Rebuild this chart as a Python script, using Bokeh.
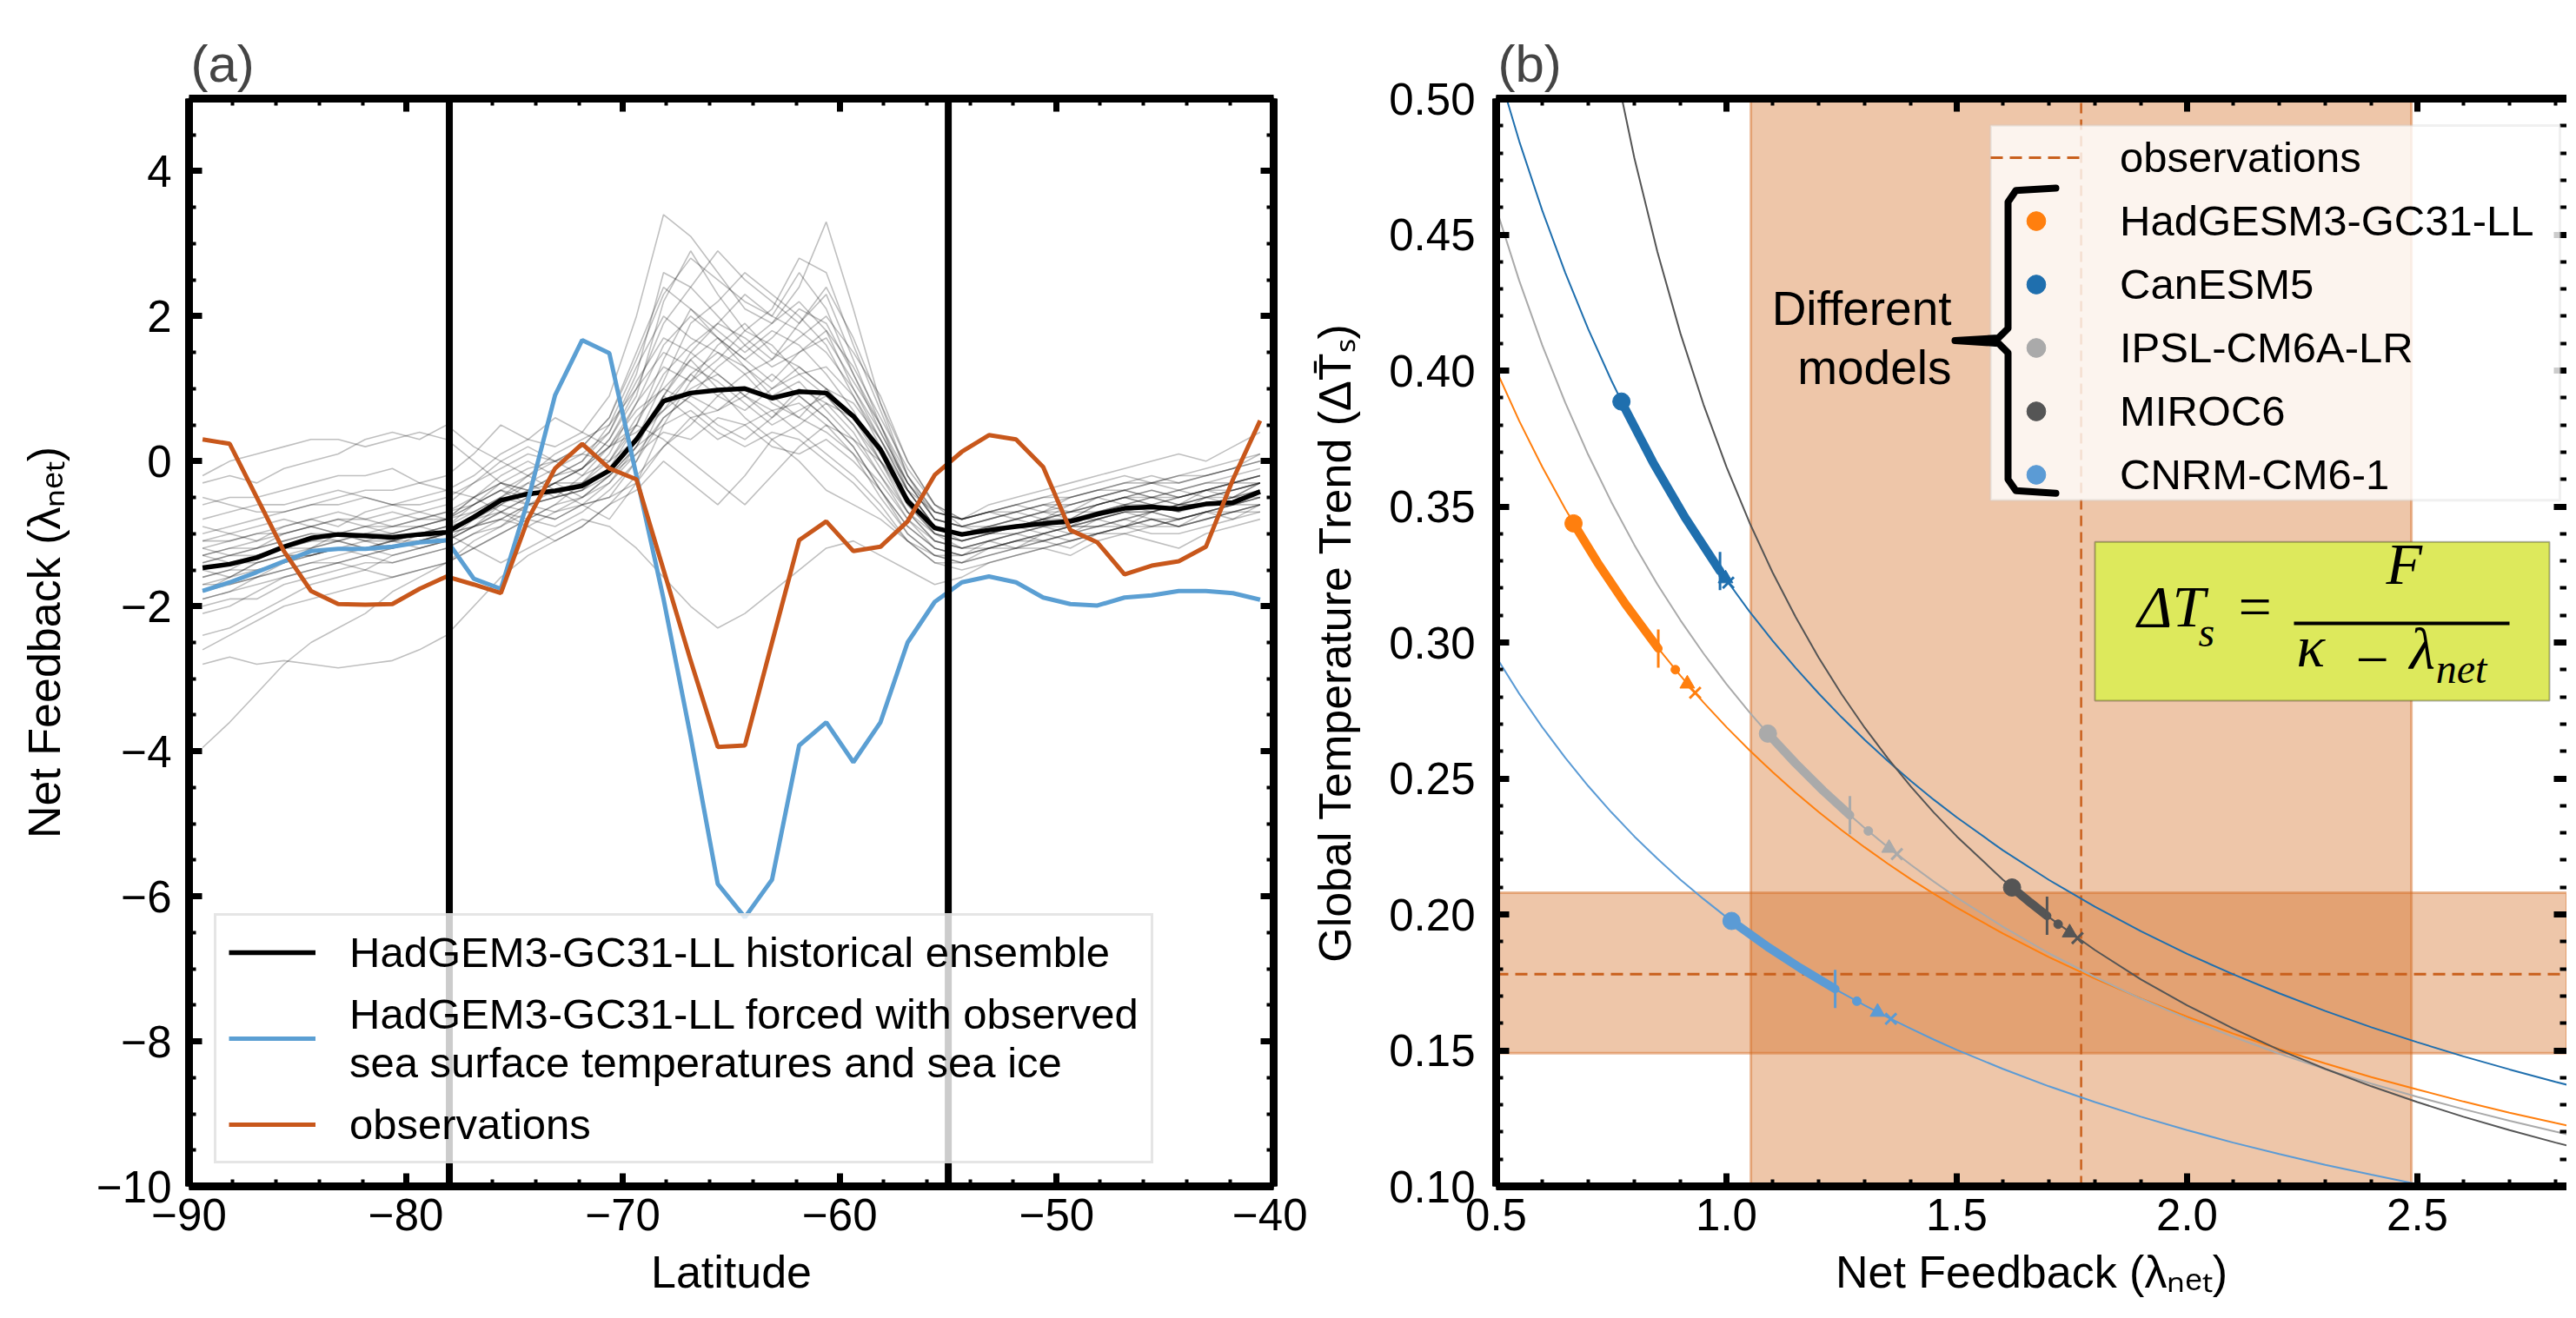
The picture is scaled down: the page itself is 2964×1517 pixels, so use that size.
from bokeh.plotting import figure
from bokeh.models import (Span, BoxAnnotation, PolyAnnotation, Legend, LegendItem, Label,
                          LinearAxis, SingleIntervalTicker, Range1d, PrintfTickFormatter)
from bokeh.layouts import row
from bokeh.embed import file_html
from bokeh.resources import INLINE

FONT = "Liberation Sans"
MATH = "Liberation Serif"

# ------------------------------------------------------------------ panel (a) data
latitude = [-89.375, -88.125, -86.875, -85.625, -84.375, -83.125, -81.875, -80.625,
            -79.375, -78.125, -76.875, -75.625, -74.375, -73.125, -71.875, -70.625,
            -69.375, -68.125, -66.875, -65.625, -64.375, -63.125, -61.875, -60.625,
            -59.375, -58.125, -56.875, -55.625, -54.375, -53.125, -51.875, -50.625,
            -49.375, -48.125, -46.875, -45.625, -44.375, -43.125, -41.875, -40.625]

hist_mean = [-1.47, -1.42, -1.33, -1.18, -1.06, -1.01, -1.03, -1.05, -1.01, -0.98,
             -0.77, -0.54, -0.45, -0.41, -0.34, -0.13, 0.30, 0.83, 0.94, 0.98,
             1.00, 0.87, 0.96, 0.94, 0.62, 0.16, -0.55, -0.92, -1.01, -0.95,
             -0.90, -0.86, -0.83, -0.73, -0.65, -0.63, -0.66, -0.59, -0.57, -0.42]

amip_sst = [-1.79, -1.67, -1.53, -1.38, -1.24, -1.21, -1.21, -1.18, -1.12, -1.09,
            -1.62, -1.76, -0.54, 0.91, 1.67, 1.49, -0.20, -1.90, -3.80, -5.83,
            -6.29, -5.77, -3.92, -3.60, -4.15, -3.60, -2.50, -1.94, -1.67, -1.59,
            -1.67, -1.88, -1.97, -1.99, -1.88, -1.85, -1.79, -1.79, -1.82, -1.91]

obs_feedback = [0.30, 0.24, -0.50, -1.24, -1.79, -1.97, -1.98, -1.97, -1.76, -1.59,
                -1.70, -1.82, -0.80, -0.10, 0.24, -0.10, -0.25, -1.50, -2.75, -3.94,
                -3.92, -2.50, -1.09, -0.83, -1.24, -1.18, -0.83, -0.19, 0.13, 0.36,
                0.30, -0.08, -0.95, -1.12, -1.56, -1.44, -1.38, -1.18, -0.25, 0.56]

ens_01 = [-1.2,-1.1,-1.0,-0.9,-0.8,-0.9,-0.7,-0.6,-0.7,-0.8,-0.5,-0.3,-0.1,0.0,0.2,0.6,1.4,2.3,2.8,2.5,2.2,2.0,2.6,2.1,1.2,0.4,-0.3,-0.8,-0.9,-0.8,-0.7,-0.6,-0.7,-0.5,-0.4,-0.5,-0.6,-0.4,-0.3,-0.2]
ens_02 = [-2.1,-2.0,-1.8,-1.6,-1.5,-1.4,-1.5,-1.3,-1.2,-1.1,-0.9,-0.8,-0.6,-0.7,-0.5,-0.2,0.1,0.4,0.3,0.6,0.5,0.2,0.1,0.3,0.0,-0.4,-0.9,-1.2,-1.3,-1.2,-1.1,-1.0,-1.1,-1.0,-0.9,-0.8,-0.9,-0.8,-0.7,-0.6]
ens_03 = [-0.6,-0.5,-0.5,-0.4,-0.3,-0.2,-0.2,-0.1,-0.3,-0.4,-0.2,0.1,0.3,0.2,0.4,0.9,2.0,3.4,3.1,2.6,2.1,1.9,2.4,3.3,2.1,0.8,-0.2,-0.7,-0.8,-0.7,-0.6,-0.7,-0.5,-0.4,-0.3,-0.2,-0.3,-0.2,-0.1,0.0]
ens_04 = [-1.8,-1.7,-1.6,-1.4,-1.3,-1.2,-1.3,-1.4,-1.3,-1.2,-1.0,-0.8,-0.9,-0.7,-0.6,-0.5,-0.3,0.2,0.5,0.9,1.2,0.8,0.6,0.4,0.1,-0.3,-0.8,-1.1,-1.2,-1.1,-1.0,-1.1,-1.0,-0.9,-0.8,-0.9,-0.8,-0.7,-0.8,-0.6]
ens_05 = [-3.95,-3.6,-3.2,-2.8,-2.5,-2.3,-2.1,-1.8,-1.6,-1.4,-1.2,-1.0,-0.8,-0.6,-0.3,0.1,0.8,1.6,2.0,1.7,1.4,1.1,1.5,1.8,1.3,0.6,-0.1,-0.6,-0.9,-1.0,-0.9,-0.8,-0.9,-0.7,-0.6,-0.7,-0.6,-0.5,-0.6,-0.4]
ens_06 = [-1.0,-0.9,-0.8,-0.7,-0.6,-0.5,-0.4,-0.4,-0.3,-0.2,0.1,0.5,0.3,0.6,0.4,0.2,0.4,0.7,1.0,1.2,0.9,0.6,1.0,0.8,0.4,-0.2,-0.8,-1.2,-1.3,-1.1,-1.2,-1.0,-0.9,-0.8,-0.9,-0.7,-0.6,-0.6,-0.5,-0.3]
ens_07 = [-1.5,-1.6,-1.4,-1.3,-1.2,-1.0,-1.1,-1.2,-1.0,-0.9,-0.7,-0.5,-0.2,-0.4,-0.6,-0.8,-0.3,0.5,1.1,1.6,1.9,1.5,1.3,1.0,0.6,0.1,-0.6,-1.0,-1.1,-1.0,-0.9,-0.8,-0.7,-0.6,-0.5,-0.6,-0.7,-0.5,-0.4,-0.3]
ens_08 = [-2.8,-2.7,-2.8,-2.75,-2.8,-2.85,-2.8,-2.75,-2.6,-2.4,-2.0,-1.6,-1.3,-1.1,-0.9,-0.6,-0.2,0.2,0.6,0.7,1.0,0.9,1.1,0.7,0.3,-0.2,-0.7,-1.0,-1.2,-1.1,-1.0,-0.9,-1.0,-0.8,-0.7,-0.8,-0.9,-0.7,-0.6,-0.5]
ens_09 = [-0.3,-0.2,-0.3,-0.1,0.0,0.1,0.3,0.4,0.3,0.5,0.2,0.0,-0.2,0.1,0.3,0.5,1.0,1.5,1.3,1.1,0.8,0.5,0.7,0.9,0.5,0.0,-0.5,-0.9,-1.0,-0.9,-0.8,-0.9,-0.8,-0.6,-0.5,-0.4,-0.5,-0.4,-0.3,-0.2]
ens_10 = [-1.3,-1.2,-1.1,-0.9,-0.8,-0.7,-0.8,-0.9,-0.8,-0.7,-0.6,-0.4,-0.5,-0.3,-0.1,0.3,0.9,2.2,2.9,2.3,1.8,2.1,2.8,2.6,1.6,0.7,-0.2,-0.8,-0.9,-0.8,-0.7,-0.8,-0.6,-0.5,-0.4,-0.3,-0.4,-0.3,-0.2,-0.1]
ens_11 = [-1.9,-1.8,-1.7,-1.6,-1.5,-1.4,-1.3,-1.2,-1.1,-1.0,-1.2,-1.4,-1.2,-1.0,-0.8,-0.9,-1.2,-1.6,-2.0,-2.3,-2.1,-1.8,-1.5,-1.2,-1.1,-1.3,-1.5,-1.7,-1.6,-1.4,-1.3,-1.2,-1.3,-1.1,-1.0,-1.1,-1.2,-1.0,-0.9,-0.8]
ens_12 = [-1.1,-1.0,-0.9,-0.8,-0.9,-1.0,-0.9,-0.8,-0.7,-0.6,-0.3,0.0,0.2,0.0,-0.2,0.0,0.5,1.2,1.6,1.9,1.7,1.4,1.7,2.0,1.5,0.9,0.0,-0.6,-0.8,-0.7,-0.8,-0.7,-0.6,-0.5,-0.6,-0.5,-0.4,-0.5,-0.4,-0.3]
ens_13 = [-1.6,-1.5,-1.5,-1.4,-1.2,-1.1,-1.2,-1.1,-1.0,-1.1,-0.9,-0.7,-0.8,-0.9,-0.7,-0.4,0.0,0.6,0.9,0.7,0.9,1.2,0.9,0.6,0.2,-0.4,-1.0,-1.3,-1.4,-1.3,-1.2,-1.1,-1.2,-1.0,-0.9,-1.0,-1.0,-0.9,-0.8,-0.7]
ens_14 = [-0.8,-0.7,-0.6,-0.6,-0.5,-0.4,-0.5,-0.6,-0.5,-0.4,-0.5,-0.7,-0.5,-0.3,-0.1,0.2,0.5,0.3,0.0,-0.3,-0.6,-0.2,0.2,0.5,0.3,0.0,-0.4,-0.7,-0.8,-0.6,-0.5,-0.4,-0.3,-0.2,-0.1,0.0,0.1,0.0,0.2,0.4]
ens_15 = [-2.4,-2.3,-2.1,-1.9,-1.7,-1.6,-1.5,-1.6,-1.5,-1.4,-1.1,-0.9,-0.6,-0.5,-0.4,-0.1,0.3,0.9,1.4,1.0,0.6,0.3,0.5,0.8,0.6,0.2,-0.4,-0.9,-1.1,-1.0,-0.9,-1.0,-0.9,-0.8,-0.7,-0.6,-0.7,-0.6,-0.5,-0.4]
ens_16 = [-1.4,-1.3,-1.2,-1.0,-0.9,-1.0,-1.1,-1.0,-0.9,-0.8,-0.6,-0.3,-0.4,-0.2,0.0,0.4,1.2,2.6,2.4,2.9,2.5,2.2,1.9,2.3,1.4,0.5,-0.4,-0.9,-1.0,-0.9,-0.9,-0.8,-0.7,-0.6,-0.5,-0.6,-0.5,-0.4,-0.5,-0.3]
ens_17 = [-1.7,-1.6,-1.4,-1.3,-1.3,-1.2,-1.1,-1.1,-1.0,-0.9,-0.8,-0.6,-0.7,-0.8,-0.6,-0.3,0.2,0.9,0.6,0.3,0.5,0.7,0.4,0.1,-0.2,-0.6,-1.1,-1.4,-1.5,-1.4,-1.3,-1.2,-1.1,-1.0,-0.9,-0.8,-0.9,-0.8,-0.7,-0.6]
ens_18 = [-0.2,0.0,0.1,0.2,0.3,0.3,0.2,0.3,0.4,0.3,0.0,-0.3,-0.5,-0.3,-0.1,0.2,0.7,1.0,1.4,1.7,1.3,0.9,0.6,1.0,0.8,0.3,-0.3,-0.7,-0.8,-0.7,-0.6,-0.5,-0.4,-0.3,-0.2,-0.3,-0.2,-0.1,0.0,0.1]
ens_19 = [-1.3,-1.4,-1.3,-1.2,-1.1,-1.0,-1.0,-1.1,-1.2,-1.1,-0.9,-0.6,-0.3,-0.1,0.1,0.0,0.3,1.1,1.9,2.2,2.6,2.3,2.0,1.6,0.9,0.2,-0.5,-1.0,-1.1,-1.0,-0.9,-0.8,-0.8,-0.7,-0.6,-0.5,-0.6,-0.5,-0.4,-0.3]
ens_20 = [-1.9,-1.8,-1.6,-1.5,-1.4,-1.3,-1.2,-1.3,-1.2,-1.1,-0.8,-0.7,-0.9,-1.1,-0.9,-0.6,-0.4,0.0,-0.3,-0.6,-0.2,0.3,0.0,-0.4,-0.6,-0.8,-1.1,-1.3,-1.4,-1.2,-1.1,-1.0,-0.9,-0.9,-0.8,-0.7,-0.8,-0.7,-0.6,-0.5]
ens_21 = [-1.2,-1.3,-1.2,-1.1,-1.0,-1.1,-1.2,-1.1,-1.0,-0.9,-0.6,-0.4,-0.6,-0.5,-0.2,0.2,0.8,1.3,1.1,1.4,1.8,1.6,1.2,1.3,0.9,0.3,-0.4,-0.9,-1.0,-0.9,-0.8,-0.7,-0.8,-0.6,-0.5,-0.4,-0.5,-0.4,-0.3,-0.2]
ens_22 = [-1.6,-1.5,-1.3,-1.2,-1.2,-1.1,-1.0,-0.9,-0.9,-0.8,-0.7,-0.5,-0.3,-0.5,-0.4,-0.1,0.5,1.4,2.1,1.8,1.5,1.8,1.6,1.2,0.7,0.0,-0.7,-1.1,-1.2,-1.1,-1.0,-0.9,-0.9,-0.8,-0.7,-0.7,-0.6,-0.5,-0.5,-0.4]
ens_23 = [-0.9,-1.0,-1.1,-1.0,-0.9,-0.8,-0.9,-1.0,-0.9,-0.8,-0.5,-0.2,0.0,-0.2,-0.1,0.3,1.0,1.9,2.4,2.0,1.6,1.3,1.5,1.7,1.1,0.5,-0.3,-0.8,-0.9,-0.8,-0.7,-0.6,-0.6,-0.5,-0.4,-0.5,-0.4,-0.3,-0.3,-0.2]
ens_24 = [-2.0,-1.9,-1.9,-1.7,-1.6,-1.5,-1.4,-1.4,-1.3,-1.2,-1.0,-0.9,-0.7,-0.8,-0.6,-0.5,0.0,0.8,1.2,1.5,1.3,1.0,1.2,0.9,0.5,-0.1,-0.7,-1.1,-1.2,-1.2,-1.1,-1.0,-0.9,-0.9,-0.8,-0.7,-0.8,-0.7,-0.6,-0.5]
ens_25 = [-1.4,-1.3,-1.3,-1.2,-1.1,-1.1,-1.0,-1.0,-0.9,-1.0,-0.8,-0.6,-0.4,-0.3,-0.5,-0.3,0.1,0.6,0.9,1.3,1.6,1.9,2.2,1.8,1.0,0.3,-0.4,-0.9,-1.0,-1.0,-0.9,-0.8,-0.7,-0.7,-0.6,-0.6,-0.5,-0.4,-0.4,-0.3]
ens_26 = [-1.7,-1.7,-1.6,-1.5,-1.4,-1.4,-1.3,-1.2,-1.1,-1.0,-0.9,-0.7,-0.5,-0.3,-0.3,0.0,0.6,1.0,0.8,0.5,0.3,0.6,0.9,0.6,0.2,-0.4,-0.9,-1.2,-1.3,-1.2,-1.1,-1.1,-1.0,-0.9,-0.9,-0.8,-0.8,-0.7,-0.6,-0.6]
ens_27 = [-1.1,-1.1,-1.0,-1.0,-0.9,-0.8,-0.8,-0.7,-0.8,-0.7,-0.5,-0.3,-0.4,-0.2,0.0,0.5,1.3,2.0,1.7,1.5,1.2,1.4,1.9,2.4,1.7,0.8,0.0,-0.6,-0.8,-0.7,-0.7,-0.6,-0.5,-0.4,-0.4,-0.3,-0.3,-0.2,-0.1,0.0]
ens_28 = [-2.6,-2.4,-2.2,-2.0,-1.9,-1.8,-1.7,-1.6,-1.5,-1.4,-1.2,-1.0,-0.8,-0.6,-0.5,-0.2,0.2,0.5,0.7,0.4,0.2,0.4,0.3,0.0,-0.3,-0.7,-1.1,-1.4,-1.4,-1.3,-1.2,-1.2,-1.1,-1.0,-1.0,-0.9,-0.9,-0.8,-0.7,-0.7]
ens_29 = [-1.3,-1.2,-1.2,-1.1,-1.0,-1.0,-0.9,-0.9,-0.8,-0.8,-0.6,-0.4,-0.2,0.0,0.1,0.4,1.1,1.7,1.5,1.9,2.3,2.0,1.8,1.5,1.0,0.4,-0.3,-0.8,-0.9,-0.9,-0.8,-0.7,-0.7,-0.6,-0.5,-0.5,-0.5,-0.4,-0.3,-0.3]
ens_30 = [-1.5,-1.4,-1.4,-1.3,-1.3,-1.2,-1.2,-1.1,-1.1,-1.0,-0.8,-0.5,-0.6,-0.4,-0.3,-0.1,0.3,0.7,1.2,0.9,0.7,1.0,1.3,1.0,0.6,0.0,-0.6,-1.0,-1.1,-1.0,-1.0,-0.9,-0.8,-0.8,-0.7,-0.7,-0.6,-0.6,-0.5,-0.5]
ens_31 = [-0.5,-0.6,-0.7,-0.7,-0.6,-0.6,-0.5,-0.6,-0.6,-0.5,-0.3,-0.1,0.1,0.0,0.2,0.6,1.5,2.4,2.1,1.7,1.4,1.7,2.1,1.9,1.2,0.5,-0.2,-0.7,-0.8,-0.7,-0.6,-0.5,-0.5,-0.4,-0.3,-0.3,-0.2,-0.2,-0.1,0.1]
ens_32 = [-1.8,-1.6,-1.5,-1.4,-1.3,-1.2,-1.2,-1.2,-1.1,-1.0,-0.9,-0.8,-0.6,-0.5,-0.4,-0.2,0.2,0.9,1.5,1.2,0.9,0.7,0.8,0.5,0.1,-0.5,-1.0,-1.3,-1.3,-1.2,-1.2,-1.1,-1.0,-1.0,-0.9,-0.9,-0.8,-0.7,-0.7,-0.6]
ensemble = [ens_01, ens_02, ens_03, ens_04, ens_05, ens_06, ens_07, ens_08, ens_09, ens_10,
            ens_11, ens_12, ens_13, ens_14, ens_15, ens_16, ens_17, ens_18, ens_19, ens_20,
            ens_21, ens_22, ens_23, ens_24, ens_25, ens_26, ens_27, ens_28, ens_29, ens_30,
            ens_31, ens_32]

region_bounds = [-78, -55]

x_ticks_a = [-90, -80, -70, -60, -50, -40]
x_tick_labels_a = ["\u221290", "\u221280", "\u221270", "\u221260", "\u221250", "\u221240"]
y_ticks_a = [4, 2, 0, -2, -4, -6, -8, -10]
y_tick_labels_a = ["4", "2", "0", "\u22122", "\u22124", "\u22126", "\u22128", "\u221210"]

legend_a = ["HadGEM3-GC31-LL historical ensemble",
            "HadGEM3-GC31-LL forced with observed\nsea surface temperatures and sea ice",
            "observations"]

# ------------------------------------------------------------------ panel (b) data
lam_grid = [0.50, 0.55, 0.60, 0.65, 0.70, 0.75, 0.80, 0.85, 0.90, 0.95, 1.00, 1.05,
            1.10, 1.15, 1.20, 1.25, 1.30, 1.35, 1.40, 1.45, 1.50, 1.60, 1.70, 1.80,
            1.90, 2.00, 2.10, 2.20, 2.30, 2.40, 2.50, 2.60, 2.70, 2.80, 2.85]

curve_hadgem = [0.4002, 0.3815, 0.3646, 0.3491, 0.3348, 0.3217, 0.3095, 0.2983, 0.2878,
                0.2780, 0.2689, 0.2604, 0.2524, 0.2448, 0.2377, 0.2310, 0.2247, 0.2187,
                0.2130, 0.2076, 0.2025, 0.1930, 0.1843, 0.1764, 0.1691, 0.1624, 0.1562,
                0.1505, 0.1452, 0.1402, 0.1356, 0.1312, 0.1271, 0.1233, 0.1215]
curve_canesm = [0.5129, 0.4844, 0.4589, 0.4360, 0.4152, 0.3964, 0.3791, 0.3633, 0.3488,
                0.3354, 0.3230, 0.3114, 0.3007, 0.2907, 0.2813, 0.2725, 0.2642, 0.2565,
                0.2491, 0.2422, 0.2357, 0.2236, 0.2127, 0.2028, 0.1938, 0.1855, 0.1780,
                0.1710, 0.1645, 0.1585, 0.1530, 0.1478, 0.1430, 0.1384, 0.1363]
curve_ipsl = [0.4597, 0.4331, 0.4094, 0.3882, 0.3690, 0.3517, 0.3359, 0.3214, 0.3082,
              0.2960, 0.2847, 0.2743, 0.2646, 0.2556, 0.2471, 0.2392, 0.2318, 0.2248,
              0.2183, 0.2121, 0.2062, 0.1955, 0.1857, 0.1770, 0.1690, 0.1617, 0.1550,
              0.1488, 0.1431, 0.1378, 0.1329, 0.1284, 0.1241, 0.1201, 0.1182]
curve_miroc = [0.8986, 0.7838, 0.6950, 0.6243, 0.5666, 0.5187, 0.4782, 0.4437, 0.4137,
               0.3876, 0.3646, 0.3441, 0.3258, 0.3094, 0.2945, 0.2810, 0.2687, 0.2575,
               0.2471, 0.2375, 0.2287, 0.2128, 0.1990, 0.1869, 0.1761, 0.1666, 0.1580,
               0.1502, 0.1432, 0.1368, 0.1310, 0.1256, 0.1207, 0.1161, 0.1140]
curve_cnrm = [0.2947, 0.2812, 0.2689, 0.2576, 0.2472, 0.2376, 0.2287, 0.2205, 0.2128,
              0.2057, 0.1990, 0.1928, 0.1869, 0.1814, 0.1761, 0.1712, 0.1666, 0.1622,
              0.1580, 0.1540, 0.1502, 0.1432, 0.1368, 0.1310, 0.1256, 0.1207, 0.1161,
              0.1119, 0.1079, 0.1043, 0.1008, 0.0976, 0.0946, 0.0918, 0.0904]

models = ["HadGESM3-GC31-LL", "CanESM5", "IPSL-CM6A-LR", "MIROC6", "CNRM-CM6-1"]
model_colors = ["#ff7f0e", "#1f6fae", "#aaaaaa", "#555555", "#5b9bd5"]
curves = [curve_hadgem, curve_canesm, curve_ipsl, curve_miroc, curve_cnrm]

# thick segment (historical range) for each model: feedback and trend values
seg_lam = [[0.668, 0.72, 0.78, 0.852],
           [0.772, 0.84, 0.91, 0.986],
           [1.090, 1.15, 1.21, 1.268],
           [1.620, 1.66, 1.696],
           [1.011, 1.09, 1.16, 1.236]]
seg_trend = [[0.3438, 0.3294, 0.3143, 0.2978],
             [0.3886, 0.3664, 0.3460, 0.3263],
             [0.2665, 0.2556, 0.2455, 0.2365],
             [0.2099, 0.2043, 0.1995],
             [0.1976, 0.1880, 0.1803, 0.1726]]

start_lam = [0.668, 0.772, 1.090, 1.620, 1.011]
start_trend = [0.3438, 0.3886, 0.2665, 0.2099, 0.1976]
bar_lam = [0.852, 0.986, 1.268, 1.696, 1.236]
bar_trend = [0.2978, 0.3263, 0.2365, 0.1995, 0.1726]
sdot_lam = [0.889, 0.993, 1.308, 1.720, 1.283]
sdot_trend = [0.2900, 0.3247, 0.2307, 0.1964, 0.1681]
tri_lam = [0.915, 0.998, 1.353, 1.745, 1.328]
tri_trend = [0.2848, 0.3235, 0.2244, 0.1933, 0.1641]
x_lam = [0.932, 1.004, 1.370, 1.762, 1.357]
x_trend = [0.2815, 0.3220, 0.2222, 0.1913, 0.1616]

obs_lambda = [1.053, 1.77, 2.487]   # low, best, high
obs_trend = [0.149, 0.178, 0.208]   # low, best, high
x_lim_b = [0.5, 2.8245]
y_lim_b = [0.10, 0.50]


def style_axis(ax, labels=True, line=True, size="51px"):
    ax.axis_line_width = 9
    ax.axis_line_color = "black" if line else None
    ax.major_tick_in = 15
    ax.major_tick_out = 0
    ax.major_tick_line_width = 7
    ax.minor_tick_in = 8
    ax.minor_tick_out = 0
    ax.minor_tick_line_width = 4
    ax.major_label_text_font = FONT
    ax.major_label_text_font_size = size if labels else "1px"
    ax.major_label_text_color = "black" if labels else None
    ax.axis_label_text_font = FONT
    ax.axis_label_text_font_size = "52px"
    ax.axis_label_text_font_style = "normal"
    ax.axis_label_text_color = "black"
    if not labels:
        ax.major_label_standoff = 0


def style_title(p):
    p.title.text_font = FONT
    p.title.text_font_size = "60px"
    p.title.text_font_style = "normal"
    p.title.align = "left"
    p.title.offset = 2
    p.title.standoff = 14


# ================================================================== panel (a)
pa = figure(frame_width=1248, frame_height=1252, x_range=Range1d(-90, -40),
            y_range=Range1d(-10, 5), output_backend="svg", toolbar_location=None,
            min_border_left=217, min_border_right=39, min_border_top=113,
            min_border_bottom=136, title="(a)", x_axis_label="Latitude",
            y_axis_label="Net Feedback (\u03bb\u2099\u2091\u209c)")
pa.outline_line_color = None
pa.xgrid.visible = False
pa.ygrid.visible = False
style_title(pa)

xt_a = SingleIntervalTicker(interval=10, num_minor_ticks=5)
yt_a = SingleIntervalTicker(interval=2, num_minor_ticks=4)
pa.xaxis.ticker = xt_a
pa.yaxis.ticker = yt_a
pa.xaxis.major_label_overrides = dict(zip(x_ticks_a, x_tick_labels_a))
pa.yaxis.major_label_overrides = dict(zip(y_ticks_a, y_tick_labels_a))
for ax in pa.xaxis + pa.yaxis:
    style_axis(ax)
pa.xaxis.major_label_standoff = 14
pa.yaxis.major_label_standoff = 20
pa.xaxis.axis_label_standoff = 16
pa.yaxis.axis_label_standoff = 28
top_a = LinearAxis(ticker=xt_a)
right_a = LinearAxis(ticker=yt_a)
style_axis(top_a, labels=False)
style_axis(right_a, labels=False)
pa.add_layout(top_a, "above")
pa.add_layout(right_a, "right")

for member in ensemble:
    pa.line(latitude, member, line_color="black", line_alpha=0.25, line_width=1.6)

r_mean = pa.line(latitude, hist_mean, line_color="black", line_width=5.5)
r_amip = pa.line(latitude, amip_sst, line_color="#5b9fd3", line_width=5)
r_obs = pa.line(latitude, obs_feedback, line_color="#c8571b", line_width=5)

for b in region_bounds:
    pa.add_layout(Span(location=b, dimension="height", line_color="black", line_width=8))

leg_a = Legend(items=[LegendItem(label=legend_a[0], renderers=[r_mean]),
                      LegendItem(label=legend_a[1], renderers=[r_amip]),
                      LegendItem(label=legend_a[2], renderers=[r_obs])],
               location=(29, 26), label_text_font=FONT, label_text_font_size="49px",
               label_text_color="black",
               glyph_width=100, glyph_height=54, label_height=54, label_standoff=39,
               padding=14, spacing=15, margin=0, border_line_color="#cccccc",
               border_line_width=3, background_fill_alpha=0.8)
pa.add_layout(leg_a)

# ================================================================== panel (b)
pb = figure(frame_width=1232, frame_height=1252, x_range=Range1d(*x_lim_b),
            y_range=Range1d(*y_lim_b), output_backend="svg", toolbar_location=None,
            min_border_left=212, min_border_right=0, min_border_top=113,
            min_border_bottom=136, title="(b)",
            x_axis_label="Net Feedback (\u03bb\u2099\u2091\u209c)",
            y_axis_label="Global Temperature Trend (\u0394T\u0304\u209b)")
pb.outline_line_color = None
pb.xgrid.visible = False
pb.ygrid.visible = False
style_title(pb)

xt_b = SingleIntervalTicker(interval=0.5, num_minor_ticks=5)
yt_b = SingleIntervalTicker(interval=0.05, num_minor_ticks=5)
pb.xaxis.ticker = xt_b
pb.yaxis.ticker = yt_b
pb.xaxis.formatter = PrintfTickFormatter(format="%.1f")
pb.yaxis.formatter = PrintfTickFormatter(format="%.2f")
for ax in pb.xaxis + pb.yaxis:
    style_axis(ax)
pb.xaxis.major_label_standoff = 14
pb.yaxis.major_label_standoff = 24
pb.xaxis.axis_label_standoff = 16
pb.yaxis.axis_label_standoff = 30
top_b = LinearAxis(ticker=xt_b)
right_b = LinearAxis(ticker=yt_b)
style_axis(top_b, labels=False)
style_axis(right_b, labels=False, line=False)
pb.add_layout(top_b, "above")
pb.add_layout(right_b, "right")

band_col = "#d2691e"
pb.add_layout(BoxAnnotation(left=obs_lambda[0], right=obs_lambda[2], fill_color=band_col,
                            fill_alpha=0.38, line_color=band_col, line_alpha=0.45,
                            line_width=3, level="underlay"))
pb.add_layout(BoxAnnotation(bottom=obs_trend[0], top=obs_trend[2], fill_color=band_col,
                            fill_alpha=0.38, line_color=band_col, line_alpha=0.45,
                            line_width=3, level="underlay"))

obs_col = "#c9601d"
r_obs_b = pb.line(x=[x_lim_b[0], x_lim_b[1]], y=[obs_trend[1], obs_trend[1]],
                  line_color=obs_col, line_width=3, line_dash="14 8")
pb.line(x=[obs_lambda[1], obs_lambda[1]], y=[y_lim_b[0], y_lim_b[1]],
        line_color=obs_col, line_width=2.5, line_dash="12 7")

dot_renderers = []
for i in range(5):
    c = model_colors[i]
    pb.line(lam_grid, curves[i], line_color=c, line_width=2)
    pb.line(seg_lam[i], seg_trend[i], line_color=c, line_width=10, line_cap="round")
    r = pb.scatter([start_lam[i]], [start_trend[i]], size=20, color=c)
    dot_renderers.append(r)
    pb.scatter([bar_lam[i]], [bar_trend[i]], marker="dash", angle=1.5708, size=44,
               line_color=c, line_width=3)
    pb.scatter([sdot_lam[i]], [sdot_trend[i]], size=10, color=c)
    pb.scatter([tri_lam[i]], [tri_trend[i]], marker="triangle", size=17, color=c)
    pb.scatter([x_lam[i]], [x_trend[i]], marker="x", size=18, line_color=c, line_width=3)

# legend frame drawn as a box so that the brace can sit on top of it
pb.add_layout(BoxAnnotation(left=1.5736, right=2.8094, bottom=0.3523, top=0.4901,
                            fill_color="white", fill_alpha=0.8, line_color="#cccccc",
                            line_width=3))

# curly brace grouping the models (decoration)
brace_lam = [1.7151, 1.6283, 1.6113, 1.6113, 1.5906, 1.4962, 1.5906, 1.6113, 1.6113,
             1.6283, 1.7151]
brace_trend = [0.4671, 0.4662, 0.4620, 0.4155, 0.4120, 0.4110, 0.4100, 0.4065, 0.3600,
               0.3558, 0.3549]
pb.add_layout(PolyAnnotation(xs=brace_lam + brace_lam[-2::-1],
                             ys=brace_trend + brace_trend[-2::-1],
                             fill_color=None, fill_alpha=0, line_color="black",
                             line_alpha=1.0, line_width=8, line_join="round"))

leg_items = [LegendItem(label="observations", renderers=[r_obs_b])]
for i in range(5):
    leg_items.append(LegendItem(label=models[i], renderers=[dot_renderers[i]]))
leg_b = Legend(items=leg_items, location=(569, 791), label_text_font=FONT,
               label_text_font_size="49px", label_text_color="black",
               glyph_width=105, glyph_height=54, label_height=54, label_standoff=44,
               padding=8, spacing=17, margin=0,
               border_line_color=None, background_fill_alpha=0.0)
pb.add_layout(leg_b)

pb.add_layout(Label(x=1.4887, y=0.4129, text="Different", text_align="right",
                    text_font=FONT, text_font_size="55px", text_color="black"))
pb.add_layout(Label(x=1.4887, y=0.3912, text="models", text_align="right",
                    text_font=FONT, text_font_size="55px", text_color="black"))

# formula box
pb.add_layout(BoxAnnotation(left=1.80, right=2.7868, bottom=0.2786, top=0.3370,
                            fill_color="#dde95c", fill_alpha=1.0, line_color="black",
                            line_width=2))
pb.add_layout(BoxAnnotation(left=2.232, right=2.70, bottom=0.30635, top=0.30765,
                            fill_color="black", fill_alpha=1.0, line_color=None))


def mlabel(x, y, t, size, style="italic"):
    pb.add_layout(Label(x=x, y=y, text=t, text_font=MATH, text_font_size=size,
                        text_font_style=style, text_color="black"))


mlabel(1.8925, 0.3010, "\u0394T", "68px")
mlabel(2.0245, 0.2955, "s", "48px")
mlabel(2.1113, 0.3010, "=", "68px", "normal")
mlabel(2.432, 0.3169, "F", "68px")
mlabel(2.2377, 0.2863, "\u03ba", "68px")
mlabel(2.3660, 0.2863, "\u2212", "68px", "normal")
mlabel(2.4830, 0.2855, "\u03bb", "68px")
mlabel(2.5400, 0.2818, "net", "48px")

layout = row(pa, pb)
open("out.html", "w").write(file_html(layout, INLINE))
